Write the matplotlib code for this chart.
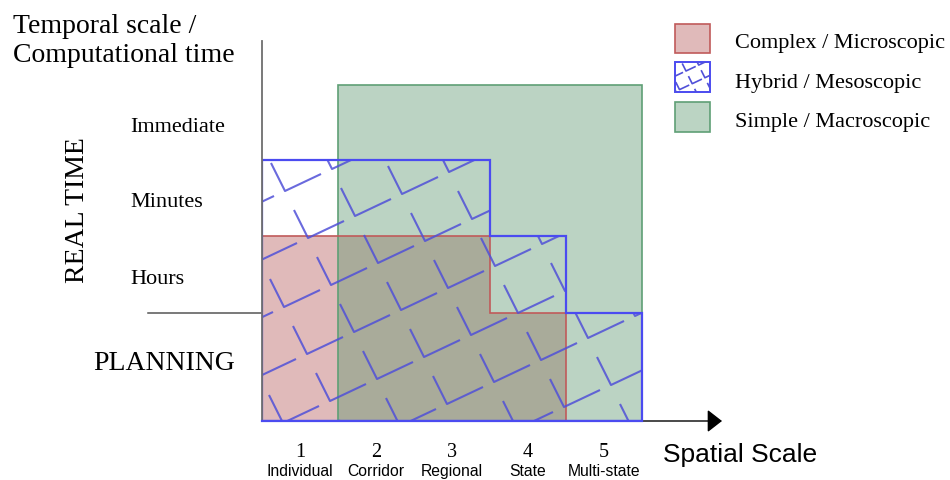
import numpy as np
import matplotlib
matplotlib.use('Agg')
import matplotlib.pyplot as plt
from matplotlib.patches import Polygon, Rectangle
from matplotlib.collections import LineCollection

# ---------------- data ----------------
categories = ['1', '2', '3', '4', '5']
scale_names = ['Individual', 'Corridor', 'Regional', 'State', 'Multi-state']
time_labels = ['Hours', 'Minutes', 'Immediate']
level_tops = [0.0, 1.42, 2.43, 3.43, 4.42]   # bottom, planning, hours, minutes, immediate
complex_levels = [2, 2, 2, 1, 0]
hybrid_levels = [3, 3, 3, 2, 1]
simple_levels = [0, 4, 4, 4, 4]
legend_labels = ['Complex / Microscopic', 'Hybrid / Mesoscopic', 'Simple / Macroscopic']
title_lines = ['Temporal scale /', 'Computational time']

SERIF = 'Liberation Serif'
SANS = 'Liberation Sans'

W, H = 950, 481
U = 76.0  # pixels per data unit

fig = plt.figure(figsize=(9.5, 4.81), dpi=100)
ov = fig.add_axes([0, 0, 1, 1])
ov.set_xlim(0, W); ov.set_ylim(H, 0); ov.axis('off')

ax = fig.add_axes([262 / W, 59 / H, 468 / W, 382 / H])
ax.set_xlim(0, 468 / U); ax.set_ylim(0, 382 / U); ax.axis('off')


def step_polygon(levels):
    cols = [i for i, l in enumerate(levels) if l > 0]
    verts = [(cols[0], 0.0)]
    for i in cols:
        h = level_tops[levels[i]]
        verts += [(i, h), (i + 1, h)]
    verts.append((cols[-1] + 1, 0.0))
    return verts


red_face, red_edge = '#e0baba', '#c05a5a'
green_rgb, green_edge = (93 / 255, 152 / 255, 112 / 255), '#5f9f75'
blue_edge, hatch_col = '#4b4bf0', '#5050d8'

# complex
ax.add_patch(Polygon(step_polygon(complex_levels), closed=True, facecolor=red_face,
                     edgecolor='none', zorder=1))
ax.add_patch(Polygon(step_polygon(complex_levels), closed=True, facecolor='none',
                     edgecolor=red_edge, lw=1.2, zorder=3))
# simple
ax.add_patch(Polygon(step_polygon(simple_levels), closed=True, facecolor=green_rgb + (0.42,),
                     edgecolor=green_edge, lw=1.2, zorder=2))

# hybrid (custom L-shaped hatch)
hyb = Polygon(step_polygon(hybrid_levels), closed=True, facecolor='none',
              edgecolor=blue_edge, lw=1.6, zorder=5)
ax.add_patch(hyb)


def lattice_marks(origin, a, b, arm1, arm2, xr, yr, n=30):
    segs = []
    for i in range(-n, n):
        for j in range(-n, n):
            v = np.array(origin) + i * np.array(a) + j * np.array(b)
            if xr[0] <= v[0] <= xr[1] and yr[0] <= v[1] <= yr[1]:
                segs.append([v + arm1, v, v + arm2])
    return segs


# pixel-measured pattern converted to data units (y up)
o = ((285 - 262) / U, (422 - 192) / U)
a = (70 / U, -25 / U)
b = (23 / U, -47 / U)
arm1 = np.array([-14 / U, 28 / U])
arm2 = np.array([36 / U, 17 / U])
segs = lattice_marks(o, a, b, arm1, arm2, (-1, 6.5), (-1, 5.5))
lc = LineCollection(segs, colors=hatch_col, linewidths=1.5, alpha=0.85, zorder=4)
ax.add_collection(lc)
lc.set_clip_path(hyb)

# axes lines
ax.plot([0, 0], [0, (422 - 42) / U], color='#6e6e6e', lw=1.3, zorder=6, clip_on=False)
ax.annotate('', xy=((722 - 262) / U, 0), xytext=(0, 0),
            arrowprops=dict(arrowstyle='-|>,head_length=0.45,head_width=0.35',
                            color='black', lw=1.0, mutation_scale=20,
                            shrinkA=0, shrinkB=0), zorder=4)
ax.plot([0, 5], [0, 0], color=blue_edge, lw=1.6, zorder=7, clip_on=False)

# x labels
for i, (c, n) in enumerate(zip(categories, scale_names)):
    ax.text(i + 0.5, -(457 - 422) / U, c, ha='center', va='baseline',
            fontsize=14.5, family=SERIF, clip_on=False)
    ax.text(i + 0.5, -(476 - 422) / U, n, ha='center', va='baseline',
            fontsize=11.3, family=SANS, clip_on=False)
ov.text(663, 462, 'Spatial Scale', ha='left', va='baseline', fontsize=19, family=SANS)

# y labels
for k, t in enumerate(time_labels):
    yc = (level_tops[k + 1] + level_tops[k + 2]) / 2
    ax.text((130 - 262) / U, yc - 8 / U, t, ha='left', va='baseline',
            fontsize=16, family=SERIF, clip_on=False)
for t, yb in zip(title_lines, [33, 62]):
    ov.text(13, yb, t, ha='left', va='baseline', fontsize=20, family=SERIF)
ov.text(77, 210, 'REAL TIME', rotation=90, ha='center', va='center',
        fontsize=20, family=SERIF)
ov.text(93, 370, 'PLANNING', ha='left', va='baseline', fontsize=20, family=SERIF)
ov.plot([148, 262], [314, 314], color='#555555', lw=1.1)

# legend
ov.add_patch(Rectangle((675, 25), 35, 29, facecolor=red_face, edgecolor=red_edge, lw=1.2))
leg_h = Rectangle((675, 63), 35, 30, facecolor='white', edgecolor=blue_edge, lw=1.4, zorder=3)
ov.add_patch(leg_h)
s = 0.27
lsegs = lattice_marks((686, 72), (70 * s, 25 * s), (23 * s, 47 * s),
                      np.array([-14 * s, -28 * s]), np.array([36 * s, -17 * s]),
                      (650, 730), (50, 110))
llc = LineCollection(lsegs, colors=hatch_col, linewidths=1.2, zorder=4)
ov.add_collection(llc)
llc.set_clip_path(leg_h)
ov.add_patch(Rectangle((675, 103), 35, 30, facecolor='#bbd4c3', edgecolor=green_edge, lw=1.2))
for lab, yb in zip(legend_labels, [48, 88, 127]):
    ov.text(735, yb, lab, ha='left', va='baseline', fontsize=16, family=SERIF)

fig.savefig('out.png', dpi=100)
